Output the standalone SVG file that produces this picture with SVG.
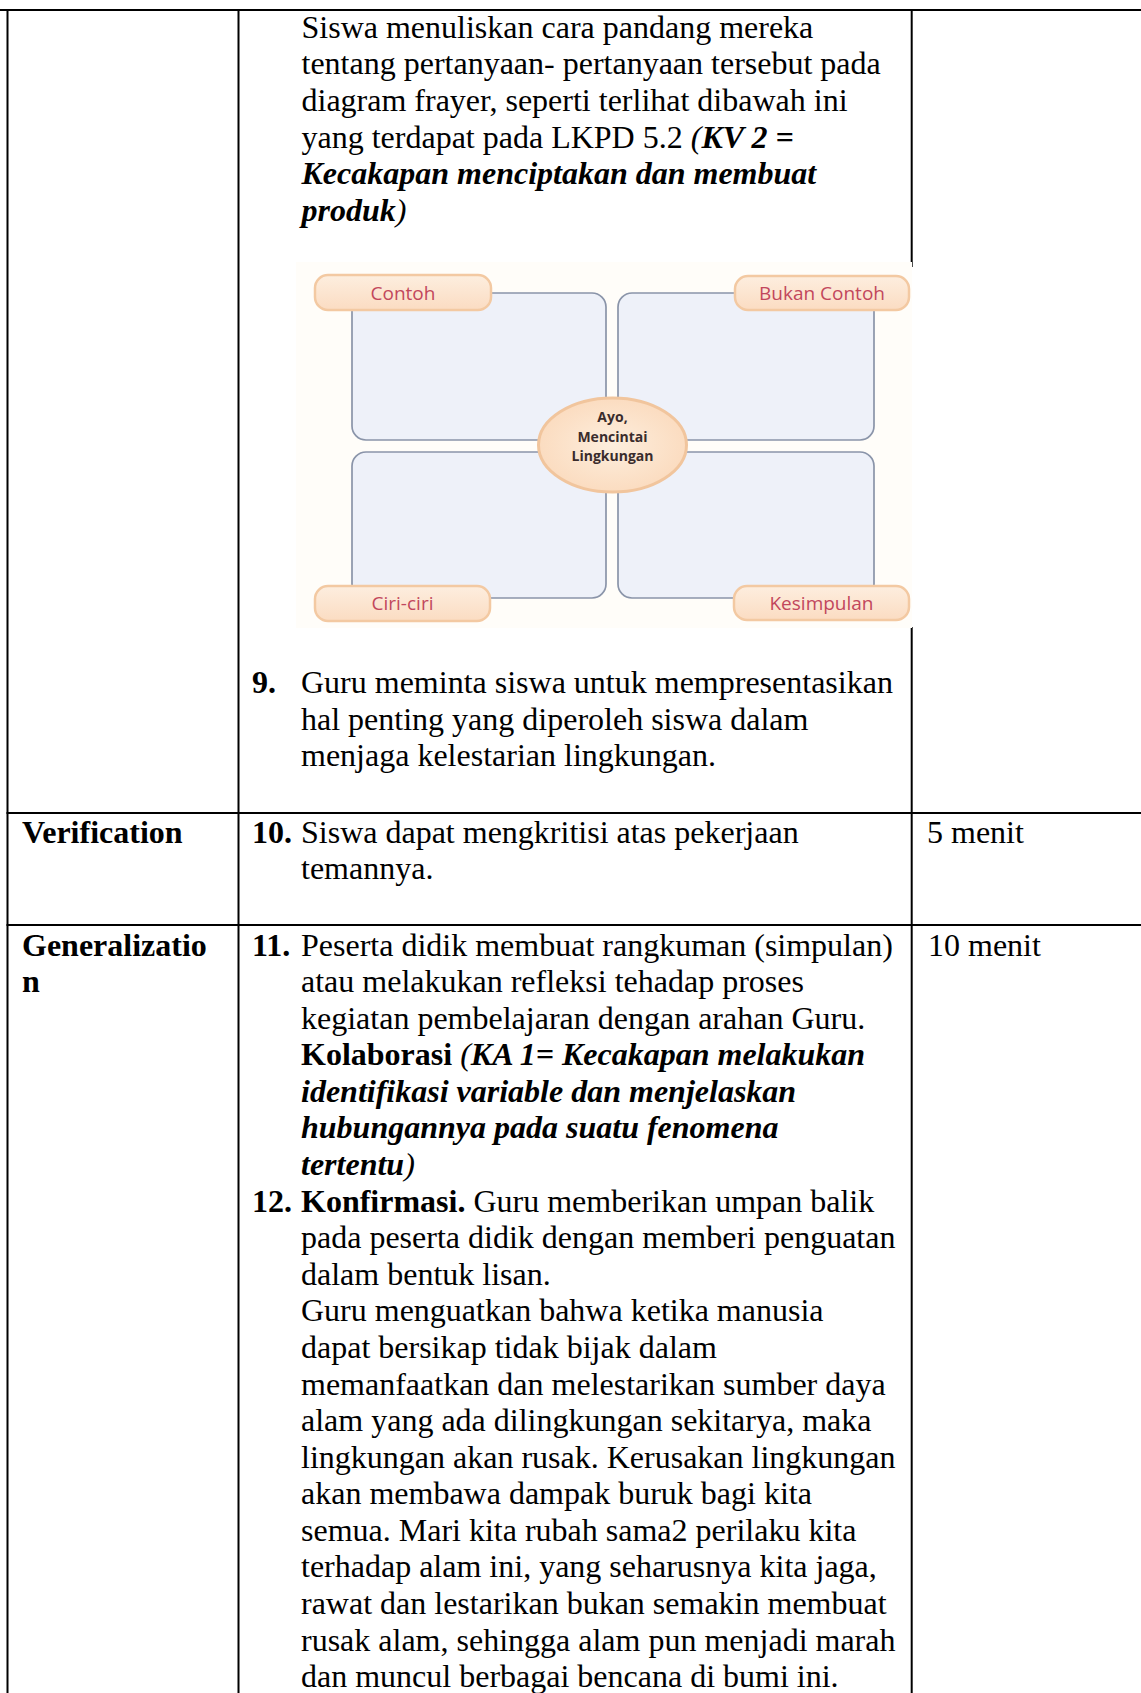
<svg xmlns="http://www.w3.org/2000/svg" width="1141" height="1693" viewBox="0 0 1141 1693">
<style>
.t{font-family:"Liberation Serif","Times New Roman",serif;font-size:32px;fill:#000}
.b{font-weight:bold}
.i{font-style:italic}
.rule{stroke:#000;stroke-width:2;fill:none}
.box{fill:#eef1f9;stroke:#8a94a9;stroke-width:1.7}
.pill{fill:url(#pg);stroke:#f3c9a2;stroke-width:2.5}
.pt{font-family:"Open Sans","Noto Sans",sans-serif;font-size:19px;fill:#c2475c;text-anchor:middle}
.et{font-family:"Open Sans","Noto Sans",sans-serif;font-size:14px;font-weight:bold;fill:#3a2c2c;text-anchor:middle}
</style>
<defs>
<linearGradient id="pg" x1="0" y1="0" x2="0" y2="1">
<stop offset="0" stop-color="#fdeedf"/>
<stop offset="1" stop-color="#fbdcc2"/>
</linearGradient>
<radialGradient id="eg" cx="0.5" cy="0.5" r="0.5">
<stop offset="0" stop-color="#fdeedd"/>
<stop offset="1" stop-color="#fbdcc0"/>
</radialGradient>
</defs>
<rect width="1141" height="1693" fill="#fff"/>

<g id="connectors">
<line class="rule" x1="0" y1="10" x2="1141" y2="10"/>
<line class="rule" x1="7.5" y1="9" x2="7.5" y2="1693"/>
<line class="rule" x1="238.5" y1="9" x2="238.5" y2="1693"/>
<line class="rule" x1="911.7" y1="9" x2="911.7" y2="267"/>
<line class="rule" x1="911.7" y1="627" x2="911.7" y2="1693"/>
<line class="rule" x1="6.5" y1="813" x2="1141" y2="813"/>
<line class="rule" x1="6.5" y1="925" x2="1141" y2="925"/>
</g>

<g id="cell-intro">
<text class="t" x="301.5" y="37.7">Siswa menuliskan cara pandang mereka</text>
<text class="t" x="301.5" y="74.3">tentang pertanyaan- pertanyaan tersebut pada</text>
<text class="t" x="301.5" y="110.9">diagram frayer, seperti terlihat dibawah ini</text>
<text class="t" x="301.5" y="147.5">yang terdapat pada LKPD 5.2 <tspan class="i">(</tspan><tspan class="b i">KV 2 =</tspan></text>
<text class="t b i" x="301.5" y="184.1">Kecakapan menciptakan dan membuat</text>
<text class="t" x="301.5" y="220.7"><tspan class="b i">produk</tspan><tspan class="i">)</tspan></text>
</g>

<g id="frayer">
<rect x="296" y="262" width="616" height="366" fill="#fffdf9"/>
<g id="box-tl"><rect class="box" x="352" y="293" width="254" height="147" rx="14"/></g>
<g id="box-tr"><rect class="box" x="618" y="293" width="256" height="147" rx="14"/></g>
<g id="box-bl"><rect class="box" x="352" y="452" width="254" height="146" rx="14"/></g>
<g id="box-br"><rect class="box" x="618" y="452" width="256" height="146" rx="14"/></g>
<g id="center">
<ellipse cx="612.5" cy="445" rx="74" ry="47" fill="url(#eg)" stroke="#f1c59d" stroke-width="3"/>
<text class="et" x="612.5" y="422">Ayo,</text>
<text class="et" x="612.5" y="441.5">Mencintai</text>
<text class="et" x="612.5" y="461">Lingkungan</text>
</g>
<g id="pill-contoh"><rect class="pill" x="315" y="275" width="176" height="35" rx="13"/><text class="pt" x="403" y="299.5">Contoh</text></g>
<g id="pill-bukan"><rect class="pill" x="735" y="276" width="174" height="34" rx="13"/><text class="pt" x="822" y="299.5">Bukan Contoh</text></g>
<g id="pill-ciri"><rect class="pill" x="315" y="586" width="175" height="35" rx="13"/><text class="pt" x="402.5" y="610">Ciri-ciri</text></g>
<g id="pill-kesimpulan"><rect class="pill" x="734" y="586" width="175" height="34" rx="13"/><text class="pt" x="821.5" y="610">Kesimpulan</text></g>
</g>

<g id="cell-step9">
<text class="t b" x="252" y="693">9.</text>
<text class="t" x="301" y="693">Guru meminta siswa untuk mempresentasikan</text>
<text class="t" x="301" y="729.6">hal penting yang diperoleh siswa dalam</text>
<text class="t" x="301" y="766.2">menjaga kelestarian lingkungan.</text>
</g>

<g id="row-verification">
<text class="t b" x="22" y="842.5">Verification</text>
<text class="t b" x="252" y="842.5">10.</text>
<text class="t" x="301" y="842.5">Siswa dapat mengkritisi atas pekerjaan</text>
<text class="t" x="301" y="879.1">temannya.</text>
<text class="t" x="927" y="842.5">5 menit</text>
</g>

<g id="row-generalization">
<text class="t b" x="22" y="955.5">Generalizatio</text>
<text class="t b" x="22" y="992.1">n</text>
<text class="t" x="928" y="955.5">10 menit</text>
<text class="t b" x="252" y="955.5">11.</text>
<text class="t" x="301" y="955.5">Peserta didik membuat rangkuman (simpulan)</text>
<text class="t" x="301" y="992.1">atau melakukan refleksi tehadap proses</text>
<text class="t" x="301" y="1028.7">kegiatan pembelajaran dengan arahan Guru.</text>
<text class="t" x="301" y="1065.2"><tspan class="b">Kolaborasi</tspan><tspan class="i"> (</tspan><tspan class="b i">KA 1= Kecakapan melakukan</tspan></text>
<text class="t b i" x="301" y="1101.8">identifikasi variable dan menjelaskan</text>
<text class="t b i" x="301" y="1138.4">hubungannya pada suatu fenomena</text>
<text class="t" x="301" y="1175"><tspan class="b i">tertentu</tspan><tspan class="i">)</tspan></text>
<text class="t b" x="252" y="1211.6">12.</text>
<text class="t" x="301" y="1211.6"><tspan class="b">Konfirmasi.</tspan> Guru memberikan umpan balik</text>
<text class="t" x="301" y="1248.2">pada peserta didik dengan memberi penguatan</text>
<text class="t" x="301" y="1284.8">dalam bentuk lisan.</text>
<text class="t" x="301" y="1321.3">Guru menguatkan bahwa ketika manusia</text>
<text class="t" x="301" y="1357.9">dapat bersikap tidak bijak dalam</text>
<text class="t" x="301" y="1394.5">memanfaatkan dan melestarikan sumber daya</text>
<text class="t" x="301" y="1431.1">alam yang ada dilingkungan sekitarya, maka</text>
<text class="t" x="301" y="1467.7">lingkungan akan rusak. Kerusakan lingkungan</text>
<text class="t" x="301" y="1504.3">akan membawa dampak buruk bagi kita</text>
<text class="t" x="301" y="1540.9">semua. Mari kita rubah sama2 perilaku kita</text>
<text class="t" x="301" y="1577.4">terhadap alam ini, yang seharusnya kita jaga,</text>
<text class="t" x="301" y="1614">rawat dan lestarikan bukan semakin membuat</text>
<text class="t" x="301" y="1650.6">rusak alam, sehingga alam pun menjadi marah</text>
<text class="t" x="301" y="1687.2">dan muncul berbagai bencana di bumi ini.</text>
</g>
</svg>
